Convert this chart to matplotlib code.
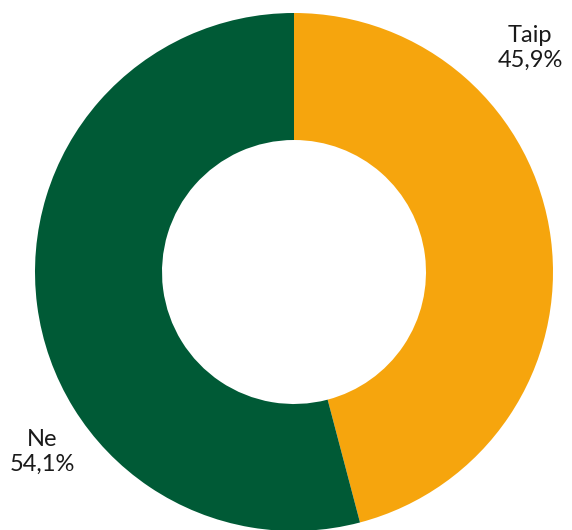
import matplotlib
matplotlib.use("Agg")
import matplotlib.pyplot as plt

labels = ["Taip", "Ne"]
values = [45.9, 54.1]
colors = ["#F6A50D", "#005A36"]

plt.rcParams["font.family"] = ["Lato", "DejaVu Sans"]

W, H = 572, 530
fig = plt.figure(figsize=(W / 100, H / 100), dpi=100)
ax = fig.add_axes([0, 0, 1, 1])

# pixel-like coordinates, y up
ax.pie(values, colors=colors, startangle=90, counterclock=False,
       center=(294, H - 272), radius=259, frame=True,
       wedgeprops=dict(width=127, linewidth=0))
ax.set_xlim(0, W)
ax.set_ylim(0, H)
ax.set_aspect("equal")
ax.axis("off")

label_pos = [(530, H - 48), (42, H - 452)]
for lab, val, (x, y) in zip(labels, values, label_pos):
    txt = f"{lab}\n{val:.1f}%".replace(".", ",")
    ax.text(x, y, txt, ha="center", va="center", fontsize=17,
            color="#1a1a1a", linespacing=1.2)

fig.savefig("out.png", dpi=100)
